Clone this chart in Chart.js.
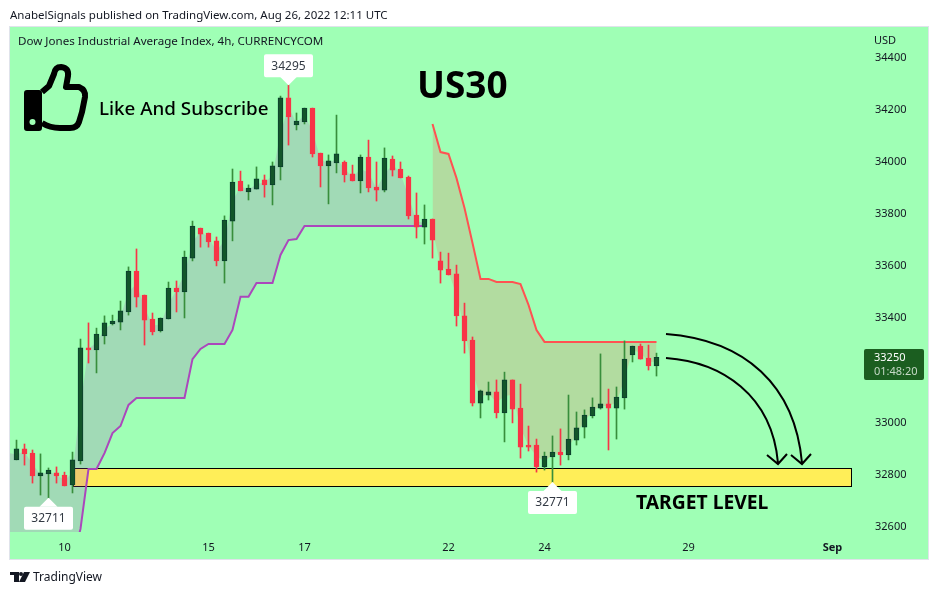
<!DOCTYPE html>
<html>
<head>
<meta charset="utf-8">
<title>US30</title>
<script src="https://cdn.jsdelivr.net/npm/chart.js@4"></script>
<style>
    html, body { margin: 0; padding: 0; background: #fff; }
    canvas { display: block; }
</style>
</head>
<body>
<canvas id="chart" width="938" height="595"></canvas>
<script>
// candles, oldest first (4h bars)
const opens = [32856,32898,32882,32794,32802,32806,32798,32760,32852,33286,33278,33332,33378,33385,33424,33581,33489,33397,33351,33397,33516,33501,33631,33746,33727,33697,33620,33773,33927,33885,33896,33931,33912,33981,34246,34142,34154,34207,34034,33985,33996,34000,33954,33927,34019,33904,33892,34011,33973,33942,33796,33750,33781,33620,33589,33570,33409,33316,33074,33105,33117,33036,33163,33055,32913,32913,32829,32867,32886,32875,32932,32982,33025,33055,33071,33055,33094,33259,33293,33247,33217];
const highs = [32932,32917,32894,32879,32825,32829,32809,32886,33320,33382,33362,33409,33412,33466,33597,33666,33489,33420,33401,33539,33543,33658,33773,33746,33727,33712,33793,33973,33965,33912,33981,33950,34000,34253,34295,34188,34207,34207,34034,34027,34180,34004,33988,34027,34084,34000,34054,34023,34000,33946,33881,33835,33781,33654,33650,33604,33458,33328,33124,33155,33163,33193,33163,33147,32986,32936,32886,32948,32975,33105,33040,33048,33094,33263,33128,33136,33313,33293,33301,33297,33266];
const lows = [32856,32836,32767,32721,32711,32767,32756,32729,32840,33228,33190,33301,33374,33355,33412,33443,33297,33336,33347,33397,33424,33401,33620,33673,33673,33601,33535,33697,33889,33854,33896,33865,33835,33931,34065,34123,34146,34019,33904,33839,33958,33923,33927,33881,33885,33850,33885,33946,33939,33781,33708,33685,33631,33535,33566,33370,33266,33063,33017,33086,33017,32925,32998,32863,32890,32809,32817,32771,32836,32856,32913,32940,33017,33051,32894,32936,33051,33232,33243,33201,33178];
const closes = [32898,32879,32794,32806,32817,32794,32756,32856,33286,33278,33339,33382,33389,33428,33581,33481,33393,33347,33401,33516,33501,33635,33754,33723,33693,33620,33777,33923,33889,33900,33935,33912,33985,34246,34173,34157,34207,34031,33985,34004,34031,33950,33927,34019,33900,33892,34015,33969,33939,33793,33750,33781,33700,33585,33566,33409,33313,33074,33121,33117,33036,33163,33051,32905,32905,32829,32871,32886,32875,32936,32979,33028,33059,33071,33055,33097,33243,33293,33243,33217,33250];

// supertrend lines and body middle, first value sits one bar before the first candle
const upMiddle = [32882,32877,32888,32838,32800,32810,32800,32777,32808,33069,33282,33308,33357,33383,33406,33502,33531,33441,33372,33376,33456,33508,33568,33692,33734,33710,33658,33698,33848,33908,33892,33915,33921,33948,34113,34210,34150,34180,34119,34010,33994,34013,33975,33940,33973,33960,33898,33953,33990,33956,33867,33773,33765];
const upTrend = [32470,32470,32470,32470,32470,32470,32470,32470,32470,32591,32821,32821,32882,32959,32986,33067,33094,33094,33094,33094,33094,33094,33094,33243,33282,33301,33301,33301,33355,33482,33482,33535,33535,33535,33643,33700,33704,33754,33754,33754,33754,33754,33754,33754,33754,33754,33754,33754,33754,33754,33754,33754,33754];
// these two start at bar 52
const downMiddle = [33740,33602,33577,33490,33361,33195,33097,33111,33076,33100,33107,32980,32909,32871,32850,32876,32880,32905,32955,33005,33042,33063,33063,33076,33168,33276,33268,33232,33233];
const downTrend = [34146,34038,34031,33938,33823,33689,33551,33551,33539,33539,33539,33531,33451,33355,33309,33309,33309,33309,33309,33309,33309,33309,33309,33309,33309,33309,33309,33309,33309];

const priceTicks = [32600,32800,33000,33200,33400,33600,33800,34000,34200,34400];
const timeTickBars = [6,24,36,54,66,84,102];
const timeTickLabels = ['10','15','17','22','24','29','Sep'];

// high / low flags: bar, price, text
const flags = [
    { bar: 4, price: 32711, text: '32711', up: false },
    { bar: 34, price: 34295, text: '34295', up: true },
    { bar: 67, price: 32771, text: '32771', up: false }
];
const targetZone = { fromBar: 7.06, toBar: 104.3, top: 32823, bottom: 32754 };

const BG = '#9FFFB5';
const UP_BODY = '#13552A';
const UP_BORDER = '#0B3F2E';
const UP_WICK = '#388E3C';
const DOWN = '#F83447';
const FONT = '"Noto Sans", sans-serif';

function isUp(i) {
    return closes[i] >= opens[i];
}

function linePoints(values, firstBar) {
    return values.map((v, i) => ({ x: firstBar + i, y: v }));
}

function roundedRect(ctx, x, y, w, h, r) {
    ctx.beginPath();
    ctx.roundRect(x, y, w, h, r);
    ctx.closePath();
}

function drawFlag(ctx, chart, flag) {
    const x = chart.scales.x.getPixelForValue(flag.bar);
    const tip = chart.scales.y.getPixelForValue(flag.price);
    const dir = flag.up ? -1 : 1;
    const near = tip + dir * 8;
    const boxTop = flag.up ? near - 23 : near + 1;

    ctx.fillStyle = '#fff';
    ctx.beginPath();
    ctx.moveTo(x, tip);
    ctx.lineTo(x - 9, near + dir);
    ctx.lineTo(x + 9, near + dir);
    ctx.closePath();
    ctx.fill();
    roundedRect(ctx, x - 24.5, boxTop, 49, 23, 2);
    ctx.fill();

    ctx.fillStyle = '#333a44';
    ctx.font = '12px ' + FONT;
    ctx.textAlign = 'center';
    ctx.textBaseline = 'middle';
    ctx.fillText(flag.text, x, boxTop + 12);
}

function drawThumb(ctx) {
    ctx.fillStyle = '#000';
    roundedRect(ctx, 24, 90, 18, 41, 3);
    ctx.fill();
    ctx.fillStyle = BG;
    ctx.beginPath();
    ctx.arc(32.5, 122, 3, 0, Math.PI * 2);
    ctx.fill();

    ctx.strokeStyle = '#000';
    ctx.lineWidth = 6;
    ctx.lineJoin = 'round';
    ctx.beginPath();
    ctx.moveTo(42, 92);
    ctx.lineTo(49, 86);
    ctx.lineTo(54, 74);
    ctx.quadraticCurveTo(55, 67, 61, 67);
    ctx.quadraticCurveTo(69, 68, 68, 76);
    ctx.lineTo(66, 87);
    ctx.lineTo(79, 87);
    ctx.quadraticCurveTo(86, 90, 85, 97);
    ctx.lineTo(82, 112);
    ctx.lineTo(79, 122);
    ctx.quadraticCurveTo(77, 128, 70, 128);
    ctx.lineTo(60, 128);
    ctx.quadraticCurveTo(50, 128, 42, 123);
    ctx.stroke();
}

function drawArrows(ctx) {
    ctx.strokeStyle = '#000';
    ctx.lineWidth = 2;
    ctx.lineJoin = 'miter';
    ctx.beginPath();
    ctx.moveTo(666, 358);
    ctx.bezierCurveTo(722, 362, 772, 395, 778, 463);
    ctx.moveTo(767, 455);
    ctx.lineTo(778, 464);
    ctx.lineTo(787, 454);
    ctx.moveTo(666, 334);
    ctx.bezierCurveTo(745, 340, 795, 385, 802, 463);
    ctx.moveTo(791, 455);
    ctx.lineTo(802, 464);
    ctx.lineTo(811, 454);
    ctx.stroke();
}

function drawLogo(ctx) {
    ctx.fillStyle = '#131722';
    ctx.fillRect(10, 572, 9, 3);
    ctx.fillRect(14, 575, 5, 7);
    ctx.beginPath();
    ctx.arc(21, 574, 2, 0, Math.PI * 2);
    ctx.fill();
    ctx.beginPath();
    ctx.moveTo(24, 572);
    ctx.lineTo(30, 572);
    ctx.lineTo(25, 582);
    ctx.lineTo(19, 582);
    ctx.closePath();
    ctx.fill();
}

function text(ctx, str, x, y, font, color) {
    ctx.font = font;
    ctx.fillStyle = color;
    ctx.textAlign = 'left';
    ctx.textBaseline = 'middle';
    ctx.fillText(str, x, y);
}

const paneBackground = {
    id: 'paneBackground',
    beforeDraw(chart) {
        const ctx = chart.ctx;
        ctx.save();
        ctx.fillStyle = '#fff';
        ctx.fillRect(0, 0, 938, 595);
        ctx.fillStyle = '#E0E3EB';
        ctx.fillRect(9, 26, 920, 534);
        ctx.fillStyle = BG;
        ctx.fillRect(10, 27, 918, 532);
        ctx.restore();
    },
    // yellow zone sits under the shading and the candles
    beforeDatasetsDraw(chart) {
        const ctx = chart.ctx;
        const { x, y } = chart.scales;
        const left = x.getPixelForValue(targetZone.fromBar);
        const right = x.getPixelForValue(targetZone.toBar);
        const top = y.getPixelForValue(targetZone.top);
        const bottom = y.getPixelForValue(targetZone.bottom);
        ctx.save();
        ctx.fillStyle = '#FFEE58';
        ctx.fillRect(left, top, right - left, bottom - top);
        ctx.strokeStyle = '#000';
        ctx.lineWidth = 1;
        ctx.strokeRect(Math.round(left) + 0.5, Math.round(top) + 0.5, Math.round(right - left), Math.round(bottom - top));
        ctx.restore();
    }
};

const overlays = {
    id: 'overlays',
    afterDraw(chart) {
        const ctx = chart.ctx;
        ctx.save();

        text(ctx, 'AnabelSignals published on TradingView.com, Aug 26, 2022 12:11 UTC', 10, 16, '11.5px ' + FONT, '#131722');
        text(ctx, 'Dow Jones Industrial Average Index, 4h, CURRENCYCOM', 18, 42, '11.6px ' + FONT, '#131722');
        text(ctx, 'USD', 874, 41, '11px ' + FONT, '#131722');

        drawThumb(ctx);
        text(ctx, 'Like And Subscribe', 99, 110, '500 18.8px ' + FONT, '#000');
        text(ctx, 'US30', 417, 87, 'bold 37px ' + FONT, '#000');
        text(ctx, 'TARGET LEVEL', 636, 504, 'bold 19.3px ' + FONT, '#000');
        drawArrows(ctx);

        flags.forEach(f => drawFlag(ctx, chart, f));

        // last price tag covers the 33200 tick
        ctx.fillStyle = '#1B5E20';
        roundedRect(ctx, 864, 349, 60, 31, 2);
        ctx.fill();
        text(ctx, '33250', 874, 358, '11px ' + FONT, '#fff');
        text(ctx, '01:48:20', 874, 372, '11px ' + FONT, '#C5D9C6');

        drawLogo(ctx);
        text(ctx, 'TradingView', 33, 578, '12px ' + FONT, '#131722');
        ctx.restore();
    }
};

const bars = opens.map((o, i) => i);

new Chart(document.getElementById('chart').getContext('2d'), {
    type: 'bar',
    data: {
        datasets: [
            {
                data: bars.map(i => ({ x: i, y: [lows[i], highs[i]] })),
                backgroundColor: bars.map(i => isUp(i) ? UP_WICK : DOWN),
                barThickness: 1,
                borderWidth: 0,
                grouped: false,
                order: 3
            },
            {
                data: bars.map(i => ({ x: i, y: [opens[i], closes[i]] })),
                backgroundColor: bars.map(i => isUp(i) ? UP_BODY : DOWN),
                borderColor: bars.map(i => isUp(i) ? UP_BORDER : DOWN),
                borderWidth: 1,
                borderSkipped: false,
                barThickness: 5,
                grouped: false,
                order: 2
            },
            {
                type: 'line',
                data: linePoints(upMiddle, -1),
                borderWidth: 0,
                borderColor: 'transparent',
                pointRadius: 0,
                order: 6
            },
            {
                type: 'line',
                data: linePoints(upTrend, -1),
                borderColor: '#AB47BC',
                borderWidth: 2,
                pointRadius: 0,
                fill: { target: 2, above: 'rgba(171,71,188,0.2)', below: 'rgba(171,71,188,0.2)' },
                order: 5
            },
            {
                type: 'line',
                data: linePoints(downMiddle, 52),
                borderWidth: 0,
                borderColor: 'transparent',
                pointRadius: 0,
                order: 6
            },
            {
                type: 'line',
                data: linePoints(downTrend, 52),
                borderColor: '#FF5252',
                borderWidth: 2,
                pointRadius: 0,
                fill: { target: 4, above: 'rgba(255,82,82,0.2)', below: 'rgba(255,82,82,0.2)' },
                order: 5
            }
        ]
    },
    options: {
        responsive: false,
        animation: false,
        devicePixelRatio: 1,
        layout: { padding: { left: 10, top: 27, right: 0, bottom: 35 } },
        plugins: {
            legend: { display: false },
            tooltip: { enabled: false },
            title: { display: false }
        },
        scales: {
            x: {
                type: 'linear',
                min: -0.8125,
                max: 106.6875,
                offset: false,
                grid: { display: false },
                border: { display: false },
                afterBuildTicks(axis) {
                    axis.ticks = timeTickBars.map(v => ({ value: v }));
                },
                afterFit(axis) {
                    axis.height = 28;
                },
                ticks: {
                    autoSkip: false,
                    maxRotation: 0,
                    padding: 1,
                    color: '#131722',
                    font: ctx => ({
                        family: '"Noto Sans", sans-serif',
                        size: 11,
                        weight: ctx.tick && ctx.tick.value === 102 ? 'bold' : 'normal'
                    }),
                    callback: value => timeTickLabels[timeTickBars.indexOf(value)]
                }
            },
            y: {
                position: 'right',
                min: 32579.1,
                max: 34518.3,
                grid: { display: false },
                border: { display: false },
                afterBuildTicks(axis) {
                    axis.ticks = priceTicks.map(v => ({ value: v }));
                },
                afterFit(axis) {
                    axis.width = 68;
                },
                ticks: {
                    padding: -3,
                    crossAlign: 'near',
                    color: '#131722',
                    font: { family: '"Noto Sans", sans-serif', size: 11 },
                    callback: value => String(value)
                }
            }
        }
    },
    plugins: [paneBackground, overlays]
});
</script>
</body>
</html>
